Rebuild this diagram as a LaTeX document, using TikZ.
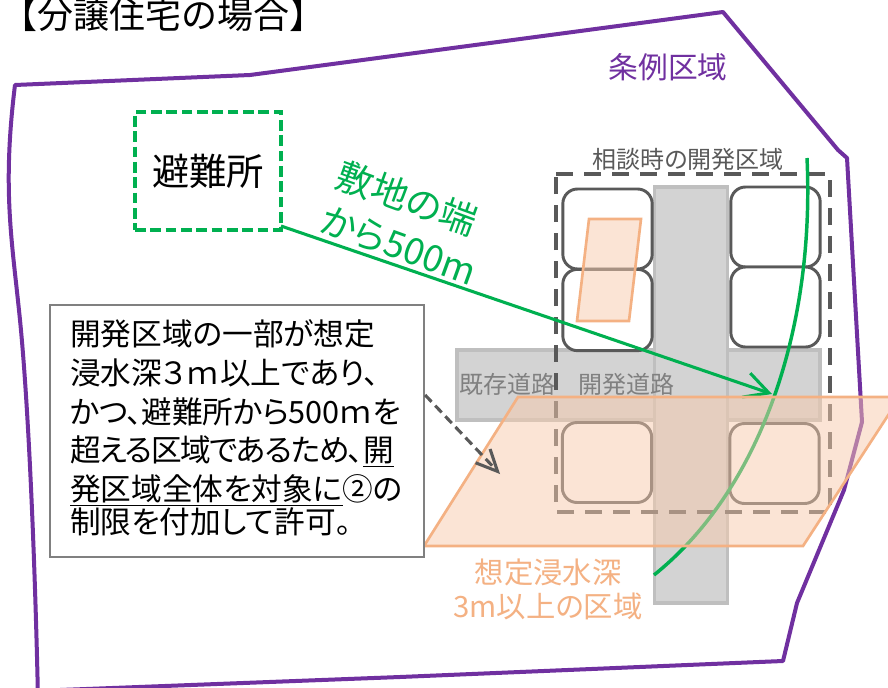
\documentclass[tikz,border=0pt]{standalone}
\usepackage{fontspec}
\usetikzlibrary{arrows.meta}
\setmainfont{Noto Sans CJK JP}[RawFeature=+palt]
\newfontfamily\fullwidth{Noto Sans CJK JP}
\definecolor{cpurple}{HTML}{7030A0}
\definecolor{cgreen}{HTML}{00B050}
\definecolor{corange}{HTML}{F4B183}
\definecolor{cfill}{HTML}{F8CBAD}
\definecolor{croad}{HTML}{D3D3D3}
\definecolor{croadb}{HTML}{BFBFBF}
\definecolor{cdark}{HTML}{595959}
\newcommand{\fs}[1]{\fontsize{#1}{#1}\selectfont}
\tikzset{
  lot/.style={draw=cdark,line width=2.2pt,fill=white,rounded corners=11pt,inner sep=0pt,minimum width=67pt,minimum height=#1},
  road/.style={draw=croadb,line width=2.6pt,fill=croad},
  flood/.style={draw=corange,line width=2pt,fill=cfill,fill opacity=0.5},
  greenbarb/.style={-{Straight Barb[length=18pt,width=19pt,line width=2.3pt]}},
  darkbarb/.style={-{Straight Barb[length=16pt,width=15pt,line width=2.3pt]}},
}
\begin{document}
\begin{tikzpicture}[x=0.75pt,y=-0.75pt]
\useasboundingbox (0,0) rectangle (888,688);
\clip (0,0) rectangle (888,688);
\fill[white] (0,0) rectangle (888,688);
% outline
\draw[cpurple,line width=3pt,line join=round] (38,700) .. controls (36,600) and (30,420) .. (20,320) .. controls (12,240) and (2,190) .. (15,85) -- (250,75) -- (723,12) -- (838,150) -- (847,158) -- (862,422) -- (844,490) -- (797,603) -- (783,661) -- (400,677) -- (60,690);
\node[text=cpurple,inner sep=0pt] (zone) at (668,67) {\fs{22.3}条例区域};
\node[inner sep=0pt,anchor=west] (title) at (1,15) {\fullwidth\fs{27}【分譲住宅の場合】};
% roads
\draw[road] (457,350) rectangle (820,420);
\node[road,inner sep=0pt,minimum width=55pt,minimum height=312pt] (vroad) at (691,395) {};
% lots
\node[lot=60pt] (a1) at (607.5,229) {};
\node[lot=61pt] (a2) at (607.5,310) {};
\node[lot=60pt] (b1) at (775.5,227) {};
\node[lot=60pt] (b2) at (775.5,307) {};
\node[lot=60pt] (a3) at (607,462.5) {};
\node[lot=60pt] (b3) at (774.5,463.5) {};
% labels on the site
\node[text=cdark,inner sep=0pt] (area) at (688,159) {\fs{18}相談時の開発区域};
\node[text=gray,inner sep=0pt] (kizon) at (507,384) {\fs{18}既存道路};
\node[text=gray,inner sep=0pt] (kaihatsu) at (626,384) {\fs{18}開発道路};
% development area
\draw[cdark,line width=3pt,dash pattern=on 13pt off 8pt] (556,174) -- (830,174) -- (830,512) -- (556,512) -- cycle;
% shelter
\node[draw=cgreen,line width=2.6pt,dash pattern=on 8pt off 3.5pt,minimum width=109.5pt,minimum height=88.5pt,inner sep=0pt] (shelter) at (208,171) {\fs{28}避難所};
% green
\coordinate (arrowstart) at (281,226);
\coordinate (arrowend) at (772,394);
\coordinate (arctop) at (807,158);
\coordinate (arcend) at (654,575);
\draw[cgreen,line width=2.6pt] (arctop) .. controls (815,330) and (760,490) .. (arcend);
\draw[cgreen,line width=2.3pt,greenbarb] (arrowstart) -- (arrowend);
\node[text=cgreen,inner sep=0pt,rotate=-20] (t1) at (407,198) {\fs{27.5}敷地の端};
\node[text=cgreen,inner sep=0pt,rotate=-20] (t2) at (399,246) {\fs{27.5}から500m};
% flood areas
\draw[flood] (589,219) -- (641,219) -- (629,321) -- (577,321) -- cycle;
\draw[flood] (518,397) -- (900,397) -- (803,546) -- (424,546) -- cycle;
\node[text=corange,inner sep=0pt] (f1) at (548,572) {\fs{22}想定浸水深};
\node[text=corange,inner sep=0pt] (f2) at (548,606) {\fs{22}3m以上の区域};
% text box
\node[draw=gray,line width=1.6pt,fill=white,anchor=north west,minimum width=280.5pt,minimum height=189pt,inner sep=0pt] (note) at (49,304) {};
\node[anchor=west,inner sep=0pt,text width=260pt,align=left] (notetext) at (70,427.5)
 {\fs{23}\baselineskip=29.2pt 開発区域の一部が想定\\浸水深３ｍ以上であり、\\{\addfontfeature{LetterSpace=-1}かつ、避難所から500ｍを}\\{\addfontfeature{LetterSpace=-4.5}超える区域であるため、\underline{開}}\\\underline{発区域全体を対象に}②の\\制限を付加して許可。};
\coordinate (dashend) at (500,474);
\draw[cdark,line width=2.3pt,dash pattern=on 7pt off 4pt,darkbarb] (note.east |- 0,395) -- (dashend);
\end{tikzpicture}
\end{document}
